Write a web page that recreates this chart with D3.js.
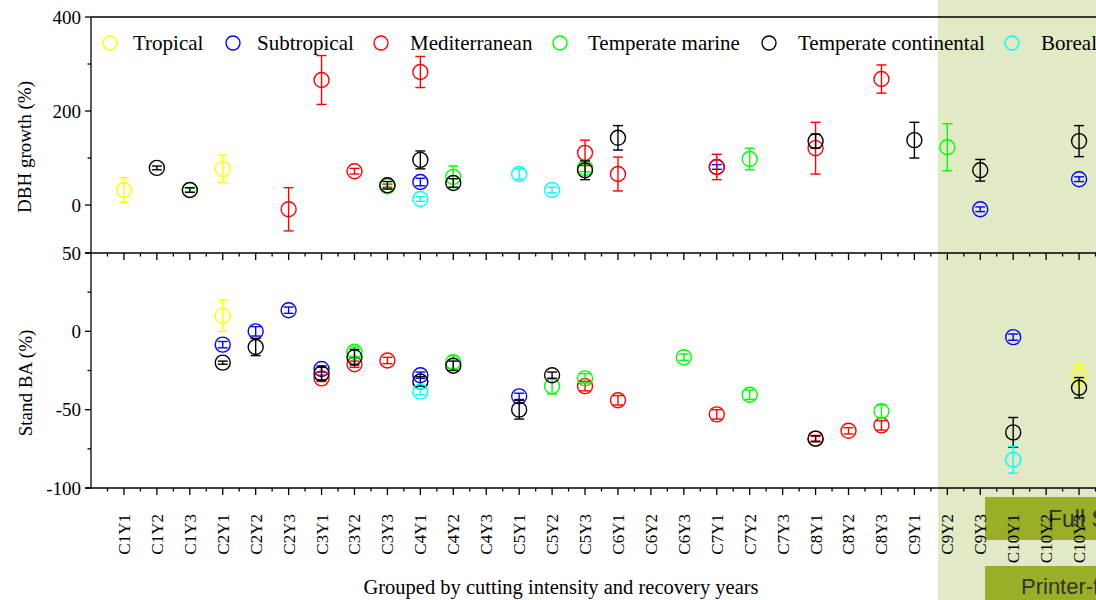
<!DOCTYPE html>
<html>
<head>
<meta charset="utf-8">
<script src="https://cdn.jsdelivr.net/npm/d3@7"></script>
<style>
  body { margin: 0; background: #fff; }
  svg { display: block; }
  text { font-family: "Liberation Serif", "Times New Roman", serif; }
</style>
</head>
<body>
<div id="chart"></div>
<script>
// categories: cutting intensity C1..C10 x recovery year Y1..Y3
var categories = [];
for (var c = 1; c <= 10; c++) for (var y = 1; y <= 3; y++) categories.push('C' + c + 'Y' + y);

var seriesNames = ['Tropical', 'Subtropical', 'Mediterranean', 'Temperate marine', 'Temperate continental', 'Boreal'];
var seriesColors = ['#ffff00', '#0000ff', '#ff0000', '#00ff00', '#000000', '#00ffff'];

// [category, mean, error] - DBH growth (%)
var tropicalDBH = [['C1Y1', 32, 26], ['C2Y1', 77, 29]];
var subtropicalDBH = [['C4Y1', 49, 8], ['C7Y1', 81, 5], ['C9Y3', -9, 5], ['C10Y3', 55, 5]];
var mediterraneanDBH = [['C2Y3', -9, 46], ['C3Y1', 266, 52], ['C3Y2', 72, 6], ['C3Y3', 41, 3], ['C4Y1', 283, 33],
  ['C5Y3', 111, 27], ['C6Y1', 66, 36], ['C7Y1', 81, 27], ['C8Y1', 121, 55], ['C8Y3', 268, 30]];
var marineDBH = [['C1Y3', 32, 4], ['C3Y3', 40, 5], ['C4Y2', 60, 23], ['C5Y3', 79, 8], ['C7Y2', 98, 23], ['C9Y2', 123, 50]];
var continentalDBH = [['C1Y2', 79, 4], ['C1Y3', 32, 5], ['C3Y3', 42, 8], ['C4Y1', 96, 19], ['C4Y2', 47, 9], ['C5Y3', 74, 20],
  ['C6Y1', 143, 26], ['C8Y1', 136, 15], ['C9Y1', 138, 38], ['C9Y3', 74, 23], ['C10Y3', 136, 33]];
var borealDBH = [['C4Y1', 13, 5], ['C5Y1', 66, 11], ['C5Y2', 32, 6]];

// [category, mean, error] - Stand BA (%)
var tropicalBA = [['C2Y1', 10, 10], ['C10Y3', -28, 7]];
var subtropicalBA = [['C2Y1', -8.5, 2], ['C2Y2', 0, 3], ['C2Y3', 13.5, 2], ['C3Y1', -24, 2], ['C4Y1', -28, 2],
  ['C5Y1', -41.5, 2], ['C10Y1', -3.7, 2]];
var mediterraneanBA = [['C3Y1', -30, 2], ['C3Y2', -21, 2], ['C3Y3', -18.6, 2], ['C5Y3', -35, 3], ['C6Y1', -44, 3],
  ['C7Y1', -53, 3], ['C8Y1', -68.5, 1.5], ['C8Y2', -63.5, 2], ['C8Y3', -60, 3]];
var marineBA = [['C3Y2', -13, 3], ['C4Y2', -19.7, 4], ['C5Y2', -35, 5], ['C5Y3', -30, 3], ['C6Y3', -16.5, 2],
  ['C7Y2', -40.5, 3], ['C8Y3', -51, 4]];
var continentalBA = [['C2Y1', -20, 1], ['C2Y2', -10, 5.5], ['C3Y1', -27, 4], ['C3Y2', -16.5, 5], ['C4Y1', -32, 3],
  ['C4Y2', -22, 3], ['C5Y1', -50, 6], ['C5Y2', -28, 2], ['C8Y1', -68.5, 2], ['C10Y1', -64.5, 9.5], ['C10Y3', -36, 6.5]];
var borealBA = [['C4Y1', -38.5, 2], ['C10Y1', -82, 8.5]];

var dbhSeries = [tropicalDBH, subtropicalDBH, mediterraneanDBH, marineDBH, continentalDBH, borealDBH];
var baSeries = [tropicalBA, subtropicalBA, mediterraneanBA, marineBA, continentalBA, borealBA];

var dbhTicks = [400, 200, 0], dbhMinor = [300, 100];
var baTicks = [50, 0, -50, -100], baMinor = [25, -25, -75];

/* setup */
var width = 1096, height = 600;
var left = 91, xEnd = 1112;
var topY = 17, midY = 253, botY = 488;
var r = 7.5, cap = 5;

var svg = d3.select('#chart').append('svg')
    .attr('width', width)
    .attr('height', height);

// x: category index i sits at i + 1
var x = d3.scaleLinear().domain([0, categories.length + 1]).range([left, xEnd]);
var yTop = d3.scaleLinear().domain([-102, 400]).range([midY, topY]);
var yBot = d3.scaleLinear().domain([-100, 50]).range([botY, midY]);

function cx(cat) { return x(categories.indexOf(cat) + 1); }

// shaded band + overlay boxes
svg.append('rect').attr('x', 938).attr('y', 0).attr('width', width - 938).attr('height', height).attr('fill', '#e0eac4');
svg.append('rect').attr('x', 985).attr('y', 497).attr('width', width - 985).attr('height', 43).attr('fill', '#9bae28');
svg.append('rect').attr('x', 985).attr('y', 566).attr('width', width - 985).attr('height', 34).attr('fill', '#9bae28');
svg.append('text').attr('x', 1048).attr('y', 527).text('Full S')
    .style('font-family', '"Liberation Sans", Arial, sans-serif').style('font-size', '23px').attr('fill', '#333');
svg.append('text').attr('x', 1021).attr('y', 594).text('Printer-f')
    .style('font-family', '"Liberation Sans", Arial, sans-serif').style('font-size', '22px').attr('fill', '#333');

/* axes */
var ax = svg.append('g').attr('stroke', '#000').attr('stroke-width', 1.3);
ax.append('line').attr('x1', left).attr('x2', width).attr('y1', topY).attr('y2', topY);
ax.append('line').attr('x1', left - 6).attr('x2', width).attr('y1', midY).attr('y2', midY);
ax.append('line').attr('x1', left - 6).attr('x2', width).attr('y1', botY).attr('y2', botY);
ax.append('line').attr('x1', left).attr('x2', left).attr('y1', topY).attr('y2', botY);

var catIdx = d3.range(1, categories.length + 1);
var halfIdx = d3.range(0.5, categories.length + 1, 1);
[midY, botY].forEach(function (yy) {
  ax.selectAll(null).data(catIdx).enter().append('line')
      .attr('x1', function (d) { return x(d); }).attr('x2', function (d) { return x(d); })
      .attr('y1', yy).attr('y2', yy + 7);
  ax.selectAll(null).data(halfIdx).enter().append('line')
      .attr('x1', function (d) { return x(d); }).attr('x2', function (d) { return x(d); })
      .attr('y1', yy).attr('y2', yy + 3.5);
});

function yTicks(scale, major, minor) {
  ax.selectAll(null).data(major).enter().append('line')
      .attr('x1', left - 6).attr('x2', left)
      .attr('y1', function (d) { return scale(d); }).attr('y2', function (d) { return scale(d); });
  ax.selectAll(null).data(minor).enter().append('line')
      .attr('x1', left - 3.5).attr('x2', left)
      .attr('y1', function (d) { return scale(d); }).attr('y2', function (d) { return scale(d); });
  svg.selectAll(null).data(major).enter().append('text')
      .attr('x', left - 10).attr('y', function (d) { return scale(d); })
      .attr('dy', '0.35em').attr('text-anchor', 'end')
      .style('font-size', '19px')
      .text(function (d) { return d; });
}
yTicks(yTop, dbhTicks, dbhMinor);
yTicks(yBot, baTicks, baMinor);

// category labels
svg.selectAll('.xlab').data(categories).enter().append('text')
    .attr('class', 'xlab')
    .attr('transform', function (d, i) { return 'translate(' + x(i + 1) + ',514) rotate(-90)'; })
    .attr('dy', '0.35em')
    .attr('text-anchor', 'end')
    .style('font-size', '17px')
    .text(function (d) { return d; });

// titles
svg.append('text').attr('transform', 'translate(31,147) rotate(-90)')
    .attr('text-anchor', 'middle').style('font-size', '19px').text('DBH growth (%)');
svg.append('text').attr('transform', 'translate(32,383) rotate(-90)')
    .attr('text-anchor', 'middle').style('font-size', '19px').text('Stand BA (%)');
svg.append('text').attr('x', 561).attr('y', 594)
    .attr('text-anchor', 'middle').style('font-size', '20.5px')
    .text('Grouped by cutting intensity and recovery years');

/* points with error bars */
function drawPanel(seriesList, scale) {
  seriesList.forEach(function (pts, s) {
    var g = svg.append('g').attr('stroke', seriesColors[s]).attr('fill', 'none').attr('stroke-width', 1.4);
    var pt = g.selectAll(null).data(pts).enter().append('g');
    pt.append('line')
        .attr('x1', function (d) { return cx(d[0]); }).attr('x2', function (d) { return cx(d[0]); })
        .attr('y1', function (d) { return scale(d[1] + d[2]); }).attr('y2', function (d) { return scale(d[1] - d[2]); });
    [1, -1].forEach(function (sign) {
      pt.append('line')
          .attr('x1', function (d) { return cx(d[0]) - cap; }).attr('x2', function (d) { return cx(d[0]) + cap; })
          .attr('y1', function (d) { return scale(d[1] + sign * d[2]); })
          .attr('y2', function (d) { return scale(d[1] + sign * d[2]); });
    });
    pt.append('circle')
        .attr('cx', function (d) { return cx(d[0]); })
        .attr('cy', function (d) { return scale(d[1]); })
        .attr('r', r);
  });
}
drawPanel(dbhSeries, yTop);
drawPanel(baSeries, yBot);

/* legend */
var legendX = [110, 233, 381, 560, 769, 1012];
var legendTextX = [133, 257, 410, 588, 798, 1041];
var lg = svg.selectAll('.lg').data(seriesNames).enter().append('g').attr('class', 'lg');
lg.append('circle').attr('r', 7).attr('fill', 'none').attr('stroke-width', 1.4)
    .attr('cx', function (d, i) { return legendX[i]; }).attr('cy', 43)
    .attr('stroke', function (d, i) { return seriesColors[i]; });
lg.append('text').attr('x', function (d, i) { return legendTextX[i]; }).attr('y', 43)
    .attr('dy', '0.35em').style('font-size', '21px')
    .text(function (d) { return d; });
</script>
</body>
</html>
